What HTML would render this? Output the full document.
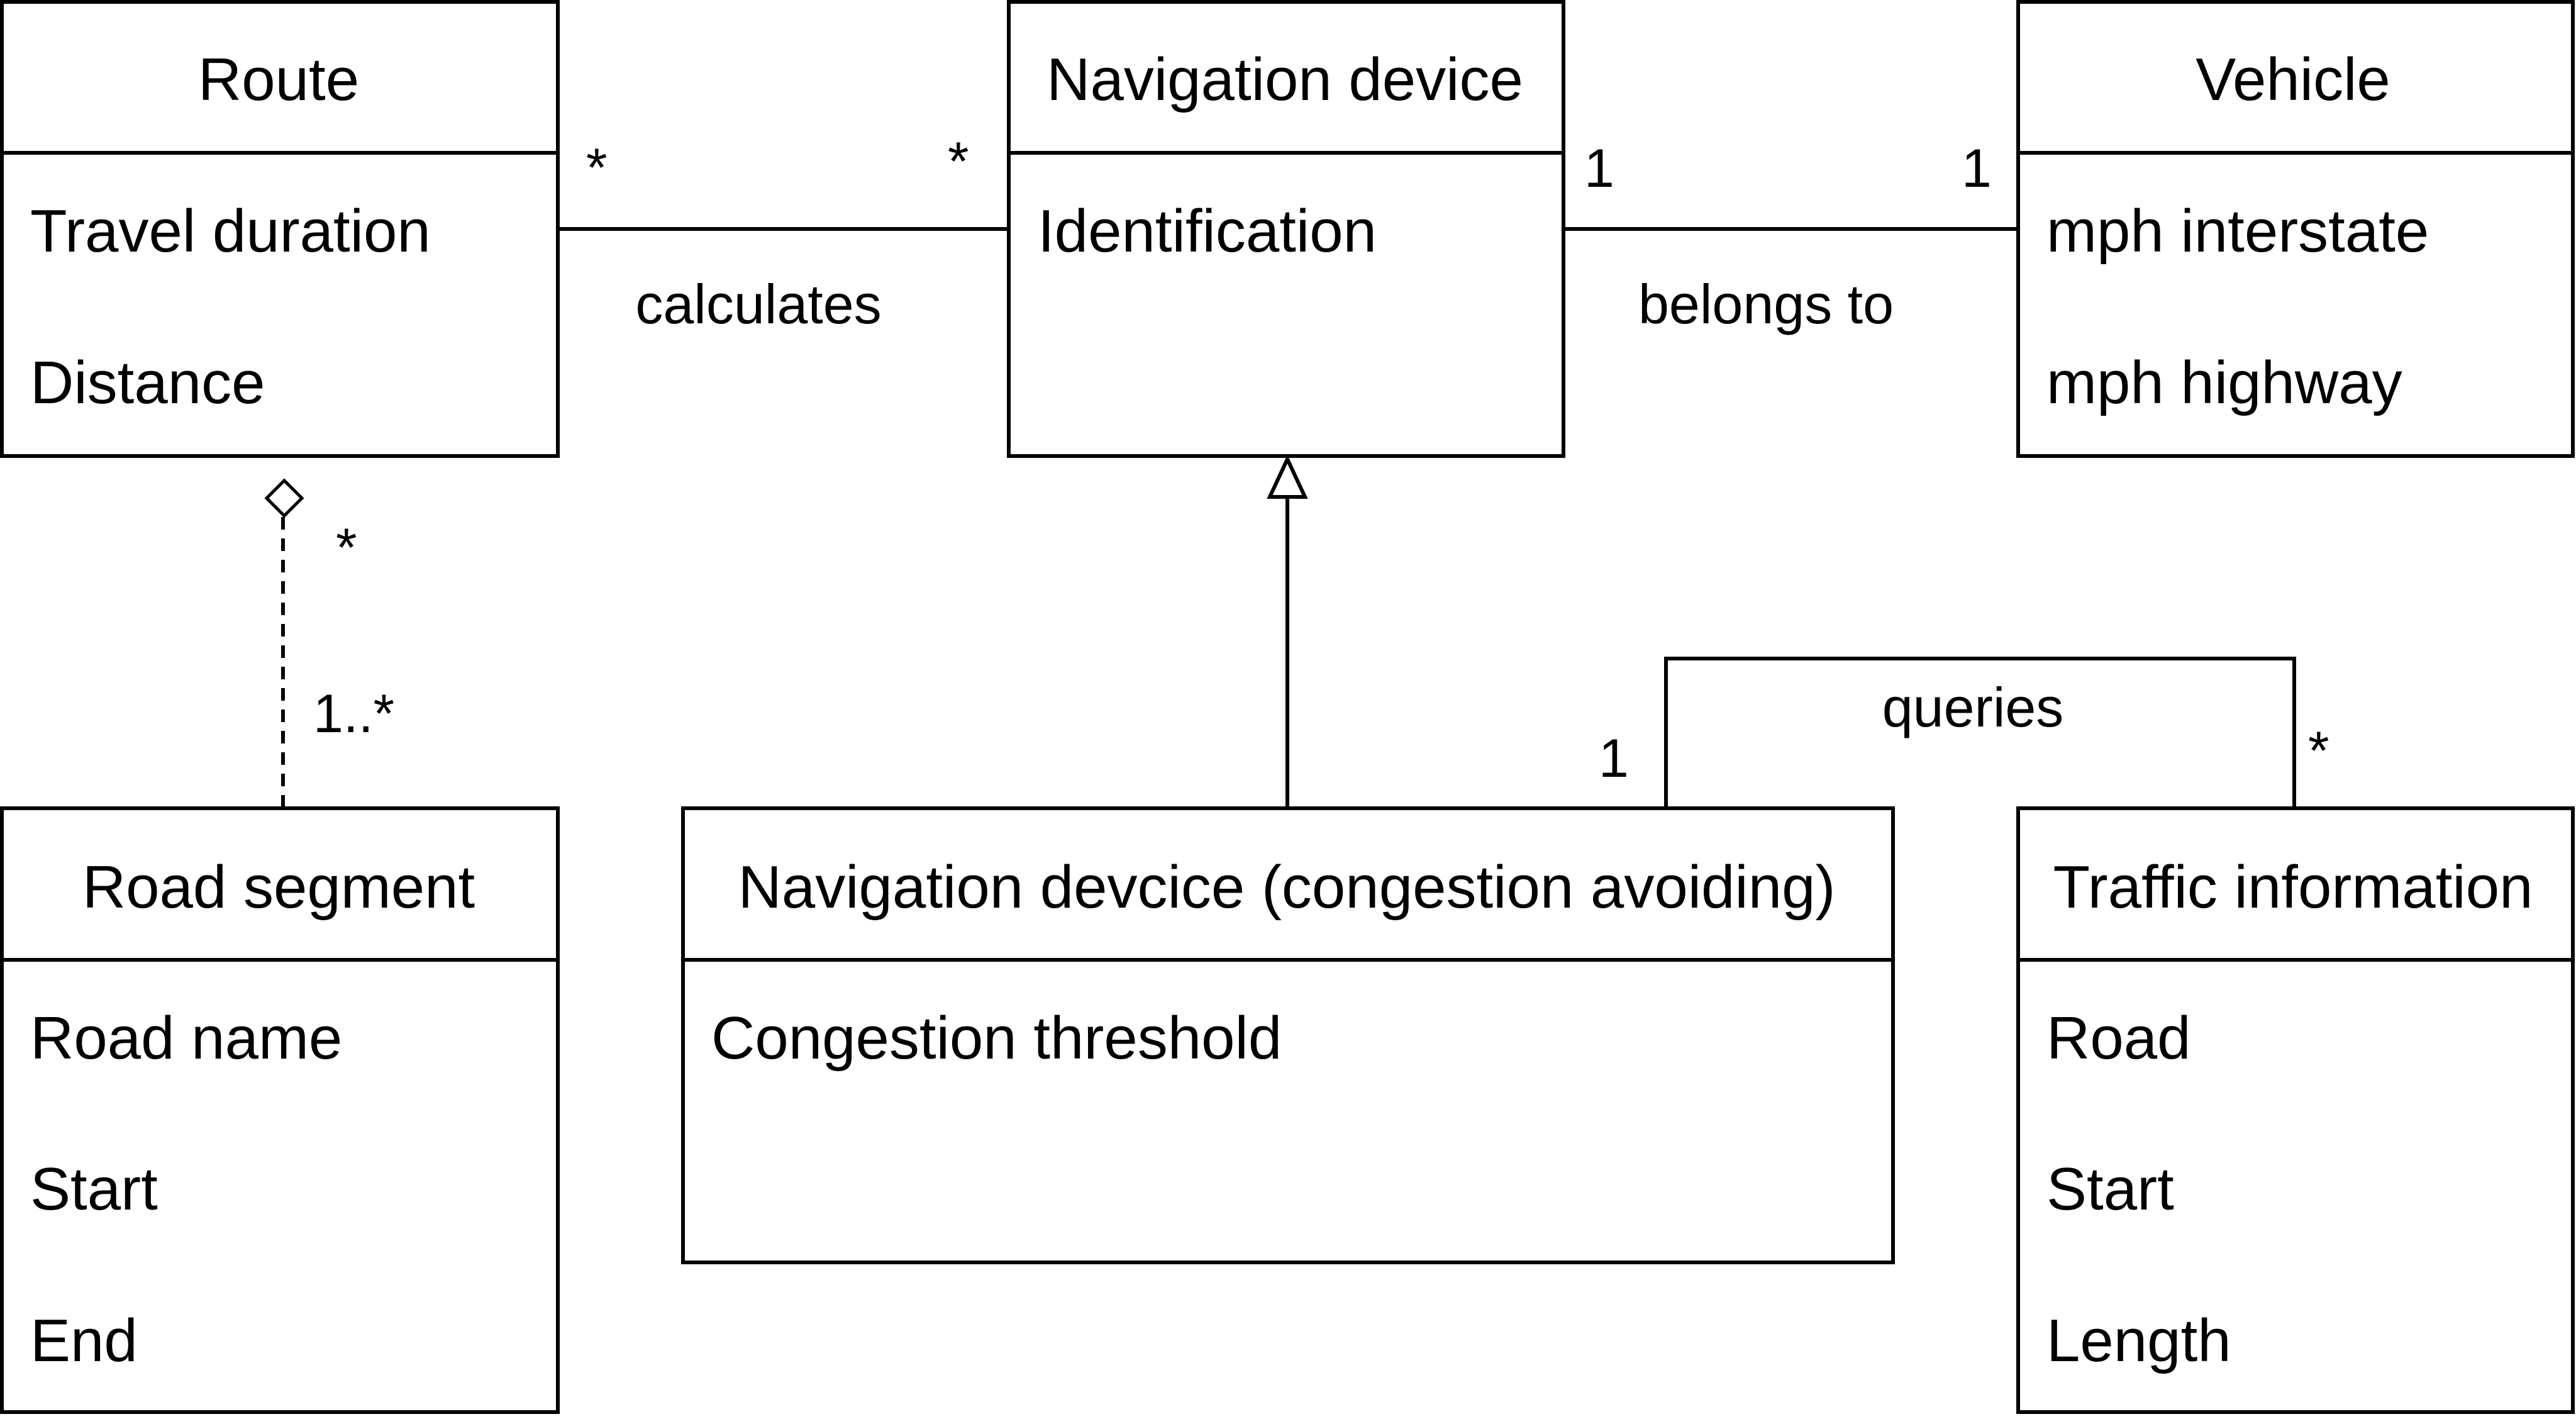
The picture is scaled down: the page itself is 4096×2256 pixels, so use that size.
<!DOCTYPE html>
<html><head><style>html,body{margin:0;padding:0;background:#fff}svg{display:block}</style></head><body>
<svg width="4096" height="2256" viewBox="0 0 4096 2256" xmlns="http://www.w3.org/2000/svg" font-family="Liberation Sans, Arial, sans-serif" font-size="96" fill="#000">
<g fill="none" stroke="#000" stroke-width="6">
<rect x="3" y="3" width="884" height="722" fill="#fff"/><line x1="3" y1="243" x2="887" y2="243"/>
<rect x="1604" y="3" width="882" height="722" fill="#fff"/><line x1="1604" y1="243" x2="2486" y2="243"/>
<rect x="3209" y="3" width="882" height="722" fill="#fff"/><line x1="3209" y1="243" x2="4091" y2="243"/>
<rect x="3" y="1285" width="884" height="960" fill="#fff"/><line x1="3" y1="1526" x2="887" y2="1526"/>
<rect x="1086" y="1285" width="1924" height="722" fill="#fff"/><line x1="1086" y1="1526" x2="3010" y2="1526"/>
<rect x="3209" y="1285" width="882" height="960" fill="#fff"/><line x1="3209" y1="1526" x2="4091" y2="1526"/>
<line x1="887" y1="364" x2="1604" y2="364"/>
<line x1="2486" y1="364" x2="3209" y2="364"/>
<line x1="2047" y1="1285" x2="2047" y2="790"/>
<polygon points="2047,730 2019,790 2075,790" fill="#fff"/>
<line x1="450" y1="822" x2="450" y2="1285" stroke-dasharray="20,14"/>
<polygon points="452,764 424,792 452,820 480,792" fill="#fff" stroke-width="5"/>
<polyline points="2649,1285 2649,1047 3648,1047 3648,1285"/>
</g>
<g text-anchor="middle">
<text x="443" y="159">Route</text>
<text x="2043" y="159">Navigation device</text>
<text x="3646" y="159">Vehicle</text>
<text x="443" y="1443">Road segment</text>
<text x="2046" y="1443">Navigation devcice (congestion avoiding)</text>
<text x="3646" y="1443">Traffic information</text>
<text x="1206" y="514" font-size="88">calculates</text>
<text x="2808" y="514" font-size="88">belongs to</text>
<text x="3137" y="1155" font-size="88">queries</text>
</g>
<g font-size="86">
<text x="932" y="296">*</text>
<text x="1507" y="286">*</text>
<text x="2519" y="297">1</text>
<text x="3119" y="297">1</text>
<text x="534" y="900">*</text>
<text x="498" y="1164">1..*</text>
<text x="2542" y="1235">1</text>
<text x="3670" y="1223">*</text>
</g>
<g>
<text x="48" y="400">Travel duration</text>
<text x="48" y="641">Distance</text>
<text x="1650" y="400">Identification</text>
<text x="3254" y="400">mph interstate</text>
<text x="3254" y="641">mph highway</text>
<text x="48" y="1683">Road name</text>
<text x="48" y="1923">Start</text>
<text x="48" y="2164">End</text>
<text x="1131" y="1683">Congestion threshold</text>
<text x="3254" y="1683">Road</text>
<text x="3254" y="1923">Start</text>
<text x="3254" y="2164">Length</text>
</g>
</svg>
</body></html>
